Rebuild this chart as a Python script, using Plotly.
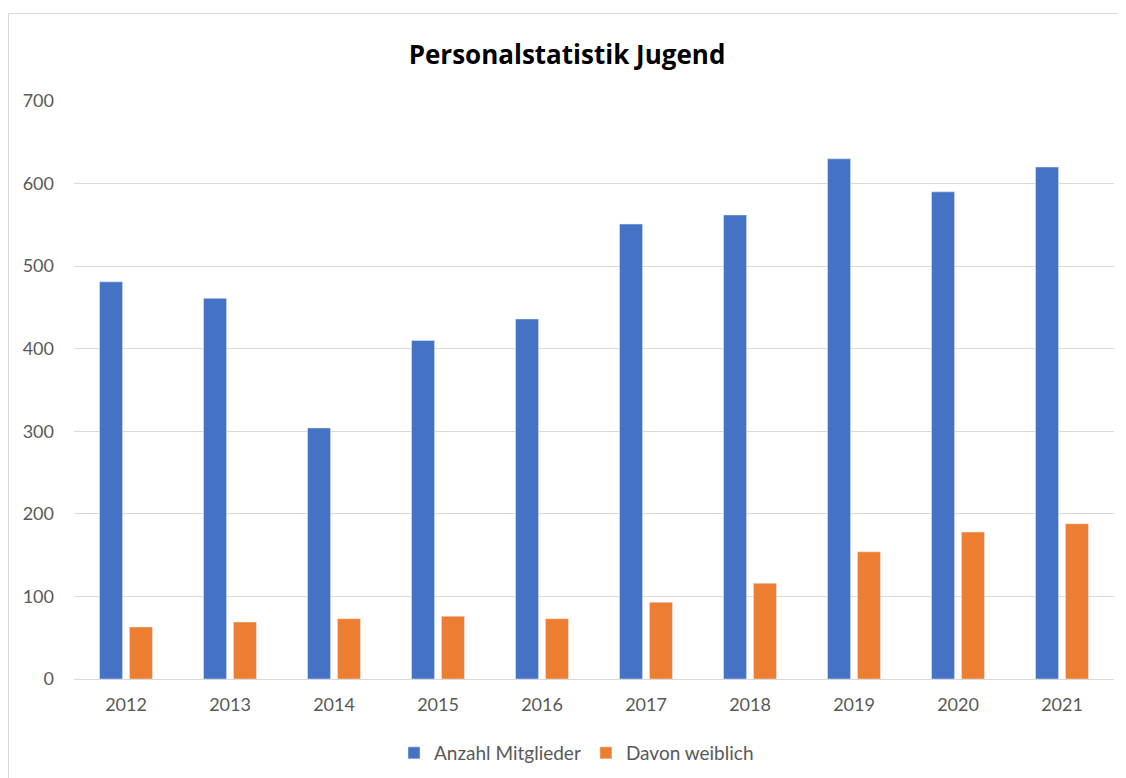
import plotly.graph_objects as go

years = ["2012", "2013", "2014", "2015", "2016", "2017", "2018", "2019", "2020", "2021"]
mitglieder = [481, 461, 304, 410, 436, 551, 562, 630, 590, 620]
weiblich = [63, 69, 73, 76, 73, 93, 116, 154, 178, 188]

fig = go.Figure()
fig.add_trace(go.Bar(x=years, y=mitglieder, name="Anzahl Mitglieder", marker_color="#4472C4"))
fig.add_trace(go.Bar(x=years, y=weiblich, name="Davon weiblich", marker_color="#ED7D31"))

font_family = "Lato, 'Open Sans', sans-serif"
W, H = 1118, 770
L, R, T, B = 66, 12, 93, 99
pw, ph = W - L - R, H - T - B

def px(x):
    return (x - L) / pw

def py(y):
    return (H - B - y) / ph

fig.update_layout(
    width=W, height=H,
    margin=dict(l=L, r=R, t=T, b=B),
    paper_bgcolor="white", plot_bgcolor="white",
    barmode="group", bargap=0.425, bargroupgap=0.23,
    title=dict(text="<b>Personalstatistik Jugend</b>", x=0.5, xanchor="center",
               y=1 - 47 / H, yref="container", yanchor="middle",
               font=dict(family="'Open Sans', Lato, sans-serif", size=26, color="#000000")),
    font=dict(family=font_family, size=18, color="#595959"),
    legend=dict(orientation="h", xref="container", x=(568.5 - 0) / W, xanchor="center",
                yref="container", y=(H - 745) / H, yanchor="middle",
                font=dict(size=19, color="#595959"), itemwidth=30, traceorder="normal"),
    xaxis=dict(showgrid=False, showline=False, ticks="", ticklabelstandoff=13,
               tickfont=dict(size=18, color="#595959")),
    yaxis=dict(range=[0, 700], dtick=100, showgrid=True, gridcolor="#D9D9D9", gridwidth=1,
               zeroline=True, zerolinecolor="#D9D9D9", zerolinewidth=1, showline=False, ticks="",
               ticklabelstandoff=19, tickfont=dict(size=18, color="#595959")),
    shapes=[
        dict(type="line", xref="paper", yref="paper", x0=px(0.5), x1=px(W), y0=py(5.5), y1=py(5.5),
             line=dict(color="#D9D9D9", width=1)),
        dict(type="line", xref="paper", yref="paper", x0=px(0.5), x1=px(0.5), y0=py(5.5), y1=py(H),
             line=dict(color="#D9D9D9", width=1)),
    ],
)

fig.write_html("out.html")
